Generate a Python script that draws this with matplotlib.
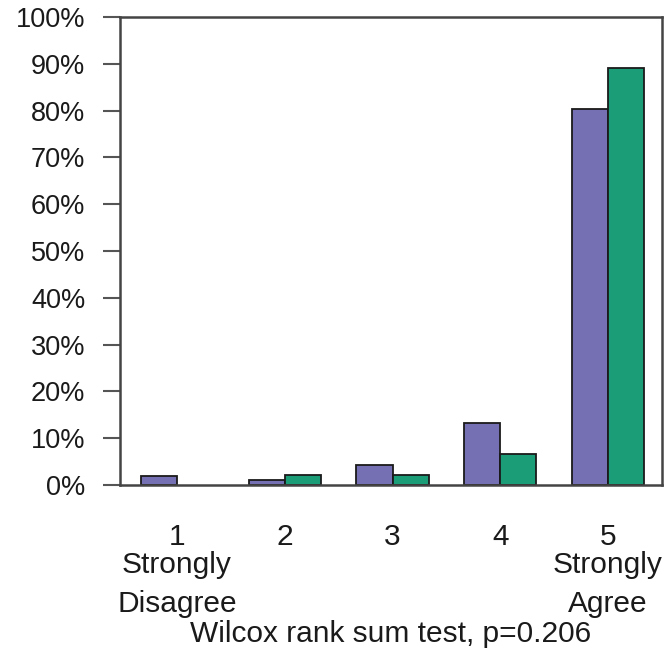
import matplotlib
matplotlib.use("Agg")
import matplotlib.pyplot as plt
import matplotlib.transforms as mtransforms
import numpy as np

plt.rcParams['font.family'] = ['Liberation Sans', 'DejaVu Sans']

categories = ["1", "2", "3", "4", "5"]
sub_labels = {"1": "Strongly\nDisagree", "5": "Strongly\nAgree"}
group_a = [2.0, 1.1, 4.2, 13.3, 80.4]   # purple
group_b = [0.0, 2.2, 2.2, 6.7, 89.0]    # green
yticks = [0, 10, 20, 30, 40, 50, 60, 70, 80, 90, 100]
ytick_labels = [f"{v}%" for v in yticks]
footer = "Wilcox rank sum test, p=0.206"

col_a = "#7570B3"
col_b = "#1B9E77"
txt = "#1a1a1a"

fig = plt.figure(figsize=(6.70, 6.53), dpi=100)
ax = fig.add_axes([120/670, 1 - 485/653, (662-120)/670, (485-17)/653])

x = np.arange(1, len(categories) + 1)
w = 0.335
ax.bar(x - w/2, group_a, width=w, color=col_a, edgecolor="#1a1a1a", linewidth=1.3)
ax.bar(x + w/2, [v if v > 0 else np.nan for v in group_b], width=w, color=col_b,
       edgecolor="#1a1a1a", linewidth=1.3)

ax.set_xlim(0.471, 5.501)
ax.set_ylim(0, 100)
ax.set_yticks(yticks)
ax.set_yticklabels(ytick_labels, fontsize=19.5, color=txt)
ax.tick_params(axis='y', length=12, width=1.5, color="#555555", pad=13)
ax.set_xticks([])

for s in ax.spines.values():
    s.set_color("#444444")
    s.set_linewidth(1.8)

fs = 21.5
trans = mtransforms.blended_transform_factory(ax.transData, fig.transFigure)
for xi, c in zip(x, categories):
    ax.text(xi, 1 - 545/653, c, transform=trans, ha='center', va='baseline',
            fontsize=fs, color=txt)
    if c in sub_labels:
        l1, l2 = sub_labels[c].split("\n")
        ax.text(xi, 1 - 573/653, l1, transform=trans, ha='center', va='baseline',
                fontsize=fs, color=txt)
        ax.text(xi, 1 - 611.5/653, l2, transform=trans, ha='center', va='baseline',
                fontsize=fs, color=txt)

ax.text(0.5, 1 - 641.5/653, footer,
        transform=mtransforms.blended_transform_factory(ax.transAxes, fig.transFigure),
        ha='center', va='baseline', fontsize=fs, color=txt)

fig.savefig("out.png", dpi=100)
